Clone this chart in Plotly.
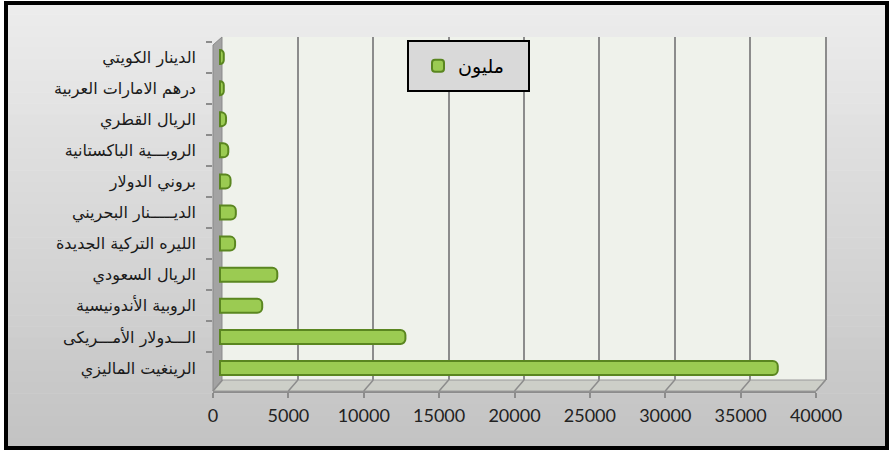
import plotly.graph_objects as go

# ---- data (top to bottom as shown) ----
currencies = [
    "الدينار الكويتي",
    "درهم الامارات العربية",
    "الريال القطري",
    "الروبـــية الباكستانية",
    "بروني الدولار",
    "الديـــــنار البحريني",
    "الليره التركية الجديدة",
    "الريال السعودي",
    "الروبية الأندونيسية",
    "الـــدولار الأمـــريكى",
    "الرينغيت الماليزي",
]
values_million = [250, 250, 400, 550, 700, 1050, 1000, 3800, 2800, 12300, 37000]
series_name = "مليون"
x_ticks = [0, 5000, 10000, 15000, 20000, 25000, 30000, 35000, 40000]

# ---- geometry (pixels) ----
W_PX, H_PX = 891, 452
L, R, T, B = 213, 816, 37, 391
PW, PH = R - L, B - T
XMAX = 40000
UPX = XMAX / PW            # data units per pixel on front axis


def px(xp):
    return (xp - L) / PW


def py(yp):
    return (B - yp) / PH


shapes = []
# background gradient bands inside the frame
top_c, bot_c = (236, 236, 236), (195, 195, 195)
n = 40
y0p, y1p = 3, 449
for i in range(n):
    t = i / (n - 1)
    c = tuple(round(top_c[k] + (bot_c[k] - top_c[k]) * t) for k in range(3))
    ya = y0p + (y1p - y0p) * i / n
    yb = y0p + (y1p - y0p) * (i + 1) / n + 0.5
    shapes.append(dict(type="rect", xref="paper", yref="paper", layer="below",
                       x0=px(4), x1=px(888), y0=py(ya), y1=py(yb),
                       fillcolor="rgb(%d,%d,%d)" % c, line=dict(width=0)))
# back wall
shapes.append(dict(type="rect", xref="paper", yref="paper", layer="below",
                   x0=px(222), x1=px(826), y0=py(380), y1=py(37),
                   fillcolor="#eff2eb", line=dict(width=0)))
# left wall
shapes.append(dict(type="path", xref="paper", yref="paper", layer="below",
                   path="M %f,%f L %f,%f L %f,%f L %f,%f Z" % (
                       px(213), py(45), px(222), py(37), px(222), py(380), px(213), py(391)),
                   fillcolor="#a3a3a3", line=dict(color="#8a8a8a", width=1)))
# right edge of back wall
shapes.append(dict(type="line", xref="paper", yref="paper", layer="below",
                   x0=px(826), x1=px(826), y0=py(380), y1=py(37),
                   line=dict(color="#8c8c8c", width=2)))
# floor
shapes.append(dict(type="path", xref="paper", yref="paper", layer="above",
                   path="M %f,%f L %f,%f L %f,%f L %f,%f Z" % (
                       px(213), py(391), px(222), py(380), px(826), py(380), px(816), py(391)),
                   fillcolor="#cdcfc8", line=dict(color="#9a9a9a", width=1)))
# floor diagonals at each tick
for v in x_ticks:
    xf = L + v / UPX
    shapes.append(dict(type="line", xref="paper", yref="paper", layer="above",
                       x0=px(xf), x1=px(xf + 9.5), y0=py(391), y1=py(380),
                       line=dict(color="#8c8c8c", width=1.5)))
# legend box
shapes.append(dict(type="rect", xref="paper", yref="paper", layer="above",
                   x0=px(408), x1=px(529), y0=py(91), y1=py(41),
                   fillcolor="#d9d9d9", line=dict(color="black", width=2)))
# outer frame
shapes.append(dict(type="rect", xref="paper", yref="paper", layer="above",
                   x0=px(6), x1=px(887), y0=py(448), y1=py(3),
                   fillcolor="rgba(0,0,0,0)", line=dict(color="black", width=4)))

fig = go.Figure()
# empty helper traces so the front axis (labels) and back-wall grid axis are drawn
fig.add_trace(go.Scatter(x=[], y=[], xaxis="x", yaxis="y", showlegend=False, hoverinfo="skip"))
fig.add_trace(go.Scatter(x=[], y=[], xaxis="x3", yaxis="y", showlegend=False, hoverinfo="skip"))
fig.add_trace(go.Bar(
    y=currencies, x=values_million, orientation="h", name=series_name,
    xaxis="x2", yaxis="y",
    marker=dict(color="#9bcb52", line=dict(color="#5a8620", width=2)),
    showlegend=True,
))

shift_bar = 7          # px offset of bar origin from front axis origin
shift_grid = 9.5       # px offset of back-wall gridlines

fig.update_layout(
    width=W_PX, height=H_PX,
    margin=dict(l=L, r=W_PX - R, t=T, b=H_PX - B, pad=0),
    paper_bgcolor="white",
    plot_bgcolor="rgba(0,0,0,0)",
    bargap=0.55,
    barcornerradius=5,
    shapes=shapes,
    showlegend=True,
    legend=dict(x=px(418), y=py(66), xanchor="left", yanchor="middle",
                bgcolor="rgba(0,0,0,0)", borderwidth=0,
                font=dict(family="DejaVu Sans", size=19, color="black")),
    xaxis=dict(range=[0, XMAX], tickvals=x_ticks, ticktext=[str(v) for v in x_ticks],
               showgrid=False, zeroline=False, showline=True, linecolor="#8c8c8c",
               linewidth=2, ticks="outside", ticklen=5, tickcolor="#8c8c8c", tickwidth=2,
               ticklabelstandoff=2,
               tickfont=dict(family="Lato", size=18, color="#222222"),
               fixedrange=True),
    xaxis2=dict(overlaying="x", anchor="y",
                range=[-shift_bar * UPX, XMAX - shift_bar * UPX],
                showgrid=False, zeroline=False, showticklabels=False, visible=False),
    xaxis3=dict(overlaying="x", anchor="y",
                range=[-shift_grid * UPX, XMAX - shift_grid * UPX],
                tickvals=x_ticks[1:-1], showgrid=True, gridcolor="#8c8c8c", gridwidth=2,
                zeroline=False, showticklabels=False, ticks="", showline=False),
    yaxis=dict(range=[10.74, -0.645], categoryorder="array", categoryarray=currencies,
               showgrid=False, zeroline=False, showline=False,
               ticks="outside", ticklen=6, tickcolor="#8c8c8c", tickwidth=2,
               tickson="boundaries", ticklabelstandoff=16,
               tickfont=dict(family="DejaVu Sans", size=16, color="#1a1a1a")),
)

fig.write_html("out.html")
